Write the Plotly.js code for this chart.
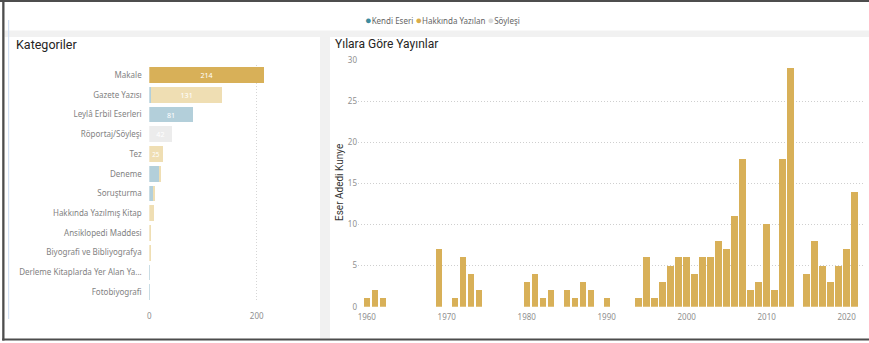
<!DOCTYPE html>
<html>
<head>
<meta charset="utf-8">
<script src="https://cdn.plot.ly/plotly-3.0.1.min.js"></script>
<style>
  html, body { margin: 0; padding: 0; background: #ffffff; }
  #chart { width: 869px; height: 343px; }
</style>
</head>
<body>
<div id="chart"></div>
<script>
// Publication categories (stacked by type)
const categories = [
  "Makale", "Gazete Yazısı", "Leylâ Erbil Eserleri", "Röportaj/Söyleşi", "Tez",
  "Deneme", "Soruşturma", "Hakkında Yazılmış Kitap", "Ansiklopedi Maddesi",
  "Biyografi ve Bibliyografya", "Derleme Kitaplarda Yer Alan Ya...", "Fotobiyografi"
];
const kendiEseri      = [0, 4, 81, 0, 0, 18, 6, 0, 0, 0, 2, 1];
const hakkindaYazilan = [214, 131, 0, 0, 25, 4, 4, 9, 4, 3, 0, 0];
const soylesi         = [0, 0, 0, 42, 0, 0, 0, 0, 0, 0, 0, 0];

// Publications per year
const years = [1960, 1961, 1962, 1969, 1971, 1972, 1973, 1974, 1980, 1981, 1982, 1983,
  1985, 1986, 1987, 1988, 1990, 1994, 1995, 1996, 1997, 1998, 1999, 2000, 2001, 2002,
  2003, 2004, 2005, 2006, 2007, 2008, 2009, 2010, 2011, 2012, 2013, 2015, 2016, 2017,
  2018, 2019, 2020, 2021];
const yearCounts = [1, 2, 1, 7, 1, 6, 4, 2, 3, 4, 1, 2,
  2, 1, 3, 2, 1, 1, 6, 1, 3, 5, 6, 6, 4, 6,
  6, 8, 7, 11, 18, 2, 3, 10, 2, 18, 29, 4, 8, 5,
  3, 5, 7, 14];

const legendNames = ["Kendi Eseri", "Hakkında Yazılan", "Söyleşi"];
const yearTicks = [1960, 1970, 1980, 1990, 2000, 2010, 2020];

const W = 869, H = 343;
const px = x => x / W;
const py = y => 1 - y / H;

const GOLD = "#D8B058";
const GOLD_FADED = "#EFDEB3";
const BLUE_FADED = "#B3CFDA";
const GRAY_FADED = "#ECECEC";

const labelOf = v => (v >= 20 ? String(v) : "");
const barText = { color: "#ffffff", size: 8, family: "Noto Sans, sans-serif" };

const traces = [
  {
    type: "bar", orientation: "h", name: legendNames[0],
    y: categories, x: kendiEseri, text: kendiEseri.map(labelOf),
    marker: { color: BLUE_FADED },
    textposition: "inside", insidetextanchor: "middle", textangle: 0,
    textfont: barText, xaxis: "x", yaxis: "y", showlegend: false, hoverinfo: "skip"
  },
  {
    type: "bar", orientation: "h", name: legendNames[1],
    y: categories, x: hakkindaYazilan, text: hakkindaYazilan.map(labelOf),
    marker: { color: categories.map((c, i) => (i === 0 ? GOLD : GOLD_FADED)) },
    textposition: "inside", insidetextanchor: "middle", textangle: 0,
    textfont: barText, xaxis: "x", yaxis: "y", showlegend: false, hoverinfo: "skip"
  },
  {
    type: "bar", orientation: "h", name: legendNames[2],
    y: categories, x: soylesi, text: soylesi.map(labelOf),
    marker: { color: GRAY_FADED },
    textposition: "inside", insidetextanchor: "middle", textangle: 0,
    textfont: barText, xaxis: "x", yaxis: "y", showlegend: false, hoverinfo: "skip"
  },
  {
    type: "bar", name: "Eser Adedi Kunye",
    x: years, y: yearCounts,
    marker: { color: GOLD },
    xaxis: "x2", yaxis: "y2", showlegend: false, hoverinfo: "skip"
  }
];

const tickFont = { family: "Noto Sans, sans-serif", size: 8, color: "#8f8f8f" };
const catFont = { family: "Noto Sans, sans-serif", size: 8, color: "#828282" };
const GRID_DASH = "1px,2px";

const layout = {
  width: W, height: H,
  margin: { l: 0, r: 0, t: 0, b: 0 },
  paper_bgcolor: "#ffffff", plot_bgcolor: "rgba(0,0,0,0)",
  barmode: "stack", bargap: 0.2,
  showlegend: false,
  xaxis: {
    domain: [px(149.3), px(310.4)], anchor: "y",
    range: [0, 300], tickvals: [0, 200], ticktext: ["0", "200"],
    showgrid: true, gridcolor: "#d6d6d6", griddash: GRID_DASH, gridwidth: 1,
    zeroline: false, showline: false,
    ticks: "outside", ticklen: 6, tickcolor: "rgba(0,0,0,0)",
    tickfont: tickFont, fixedrange: true
  },
  yaxis: {
    domain: [py(302), py(65.2)], anchor: "x",
    type: "category", autorange: "reversed",
    showgrid: false, zeroline: false, showline: false,
    ticks: "outside", ticklen: 5, tickcolor: "rgba(0,0,0,0)",
    tickfont: catFont, fixedrange: true
  },
  xaxis2: {
    domain: [px(358), px(865)], anchor: "y2",
    range: [1958.9, 2022.3], tickvals: yearTicks,
    showgrid: false, zeroline: false, showline: false,
    ticks: "outside", ticklen: 3, tickcolor: "rgba(0,0,0,0)",
    tickfont: tickFont, fixedrange: true
  },
  yaxis2: {
    domain: [py(306.7), py(60)], anchor: "x2",
    range: [0, 30], dtick: 5, tick0: 0,
    showgrid: true, gridcolor: "#cfcfcf", griddash: GRID_DASH, gridwidth: 1,
    zeroline: false, showline: false,
    ticks: "", tickfont: tickFont, fixedrange: true
  },
  shapes: [
    // page bands between visuals
    { type: "rect", xref: "paper", yref: "paper", x0: px(4.5), x1: 1, y0: py(37), y1: py(30.5),
      fillcolor: "#f1f1f1", line: { width: 0 }, layer: "below" },
    { type: "rect", xref: "paper", yref: "paper", x0: px(320), x1: px(330), y0: py(338.5), y1: py(37),
      fillcolor: "#f1f1f1", line: { width: 0 }, layer: "below" },
    // selection marker line on the left visual
    { type: "rect", xref: "paper", yref: "paper", x0: px(8), x1: px(9.2), y0: py(319), y1: py(20),
      fillcolor: "#d3e0f3", line: { width: 0 }, layer: "below" },
    // outer frame
    { type: "rect", xref: "paper", yref: "paper", x0: 0, x1: 1, y0: py(2), y1: 1,
      fillcolor: "#4d4d4d", line: { width: 0 } },
    { type: "rect", xref: "paper", yref: "paper", x0: px(2.2), x1: px(4.5), y0: py(340.5), y1: 1,
      fillcolor: "#4d4d4d", line: { width: 0 } },
    { type: "rect", xref: "paper", yref: "paper", x0: px(2.2), x1: 1, y0: py(340.5), y1: py(338.5),
      fillcolor: "#4d4d4d", line: { width: 0 } }
  ],
  annotations: [
    {
      xref: "paper", yref: "paper", x: px(442), y: py(20), xanchor: "center", yanchor: "middle",
      showarrow: false,
      font: { family: "Noto Sans, sans-serif", size: 8, color: "#666666" },
      text: '<span style="color:#3D8C9E;font-size:11px">●</span>' + legendNames[0] +
            ' <span style="color:#D9AC4A;font-size:11px">●</span>' + legendNames[1] +
            ' <span style="color:#DADADA;font-size:11px">●</span>' + legendNames[2]
    },
    {
      xref: "paper", yref: "paper", x: px(14), y: py(44.5), xanchor: "left", yanchor: "middle",
      showarrow: false, text: "Kategoriler",
      font: { family: "Roboto, sans-serif", size: 12.5, color: "#252423" }
    },
    {
      xref: "paper", yref: "paper", x: px(333), y: py(44.5), xanchor: "left", yanchor: "middle",
      showarrow: false, text: "Yılara Göre Yayınlar",
      font: { family: "Roboto, sans-serif", size: 12, color: "#252423" }
    },
    {
      xref: "paper", yref: "paper", x: px(339), y: py(183), xanchor: "center", yanchor: "middle",
      showarrow: false, text: "Eser Adedi Kunye", textangle: -90,
      font: { family: "Roboto, sans-serif", size: 10, color: "#333333" }
    }
  ]
};

Plotly.newPlot("chart", traces, layout, { displayModeBar: false, staticPlot: true });
</script>
</body>
</html>
